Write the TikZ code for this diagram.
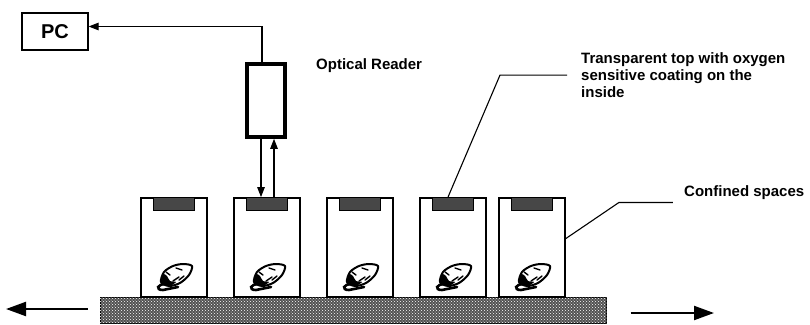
\documentclass[tikz,border=0pt]{standalone}
\usepackage{fontspec}
\setmainfont{Liberation Sans}
\usetikzlibrary{arrows.meta,patterns}

\begin{document}
\begin{tikzpicture}[x=1pt,y=-1pt,
  cell/.style={draw,line width=1.8pt,minimum width=66,minimum height=99,inner sep=0},
  lid/.style={draw,fill=black!72,line width=0.8pt,minimum width=41,minimum height=13,inner sep=0,anchor=north},
  reader/.style={draw,line width=3.6pt,minimum width=38,minimum height=73,inner sep=0},
  pcbox/.style={draw,line width=1.2pt,minimum width=66,minimum height=37,font=\bfseries\fontsize{20}{24}\selectfont},
  ray/.style={-{Triangle[length=10pt,width=7.5pt]},line width=1.1pt},
  bigray/.style={-{Triangle[length=20pt,width=14pt]},line width=2.2pt},
  lead/.style={line width=1.1pt},
  label/.style={font=\bfseries\fontsize{15}{17}\selectfont,align=left,inner sep=0},
  seed/.pic={
    \draw[line width=2pt,fill=white] plot[smooth cycle] coordinates
      {(-13,6) (-10,-4) (-1,-10) (9,-12) (18,-10) (15,-1) (6,7) (-5,10)};
    \fill plot[smooth cycle] coordinates {(-13,6) (-11,-2) (-7,0) (-4,5) (2,6) (-5,10)};
    \draw[line width=2.6pt,line cap=round] (-8,8) .. controls (-17,8) and (-19,14) .. (-11,14) -- (4,11);
    \draw[line width=1.4pt,line cap=round] (-8,-4) -- (-4,-1) (-1,5) -- (5,1) (5,4) -- (10,0) (2,-8) -- (8,-6);
  },
]
\useasboundingbox (0,0) rectangle (810,324);

% conveyor belt
\node[draw,line width=1pt,fill=black!68,minimum width=506,minimum height=26,inner sep=0] (belt) at (353,310) {};
\fill[pattern=crosshatch dots,pattern color=white!70] (belt.south west) rectangle (belt.north east);

% confined spaces with their tops and contents
\foreach \i/\x in {1/174,2/267,3/360,4/453,5/532}{
  \node[cell] (c\i) at (\x,247.5) {};
  \node[lid] (l\i) at (c\i.north) {};
  \pic at (\x,276) {seed};
}

% reader and pc
\node[reader] (rd) at (266,100.5) {};
\node[pcbox] (pc) at (55,31.5) {PC};
\node[label,anchor=west] (rdlbl) at (316,66) {Optical Reader};

\draw[ray] ([xshift=-4]rd.north) |- ([yshift=5]pc.east);
\draw[ray] ([xshift=-5]rd.south) -- ([xshift=-5]rd.south |- c2.north);
\draw[ray] ([xshift=8]rd.south |- c2.north) -- ([xshift=8]rd.south);

% callouts
\node[label,anchor=west] (toplbl) at (581,75) {Transparent top with oxygen\\sensitive coating on the\\inside};
\draw[lead] ([xshift=-5]c4.north) -- ++(52,-122) -- ++(67,0);
\node[label,anchor=west] (celllbl) at (684,193) {Confined spaces};
\draw[lead] ([yshift=9]c5.east) -- ++(53,-36) -- ++(54,0);

% direction of travel
\coordinate (lft) at (6,309);
\coordinate (rgt) at (714,313);
\draw[bigray] ([xshift=-12]belt.west |- lft) -- (lft);
\draw[bigray] ([xshift=24]belt.east |- rgt) -- (rgt);
\end{tikzpicture}
\end{document}
